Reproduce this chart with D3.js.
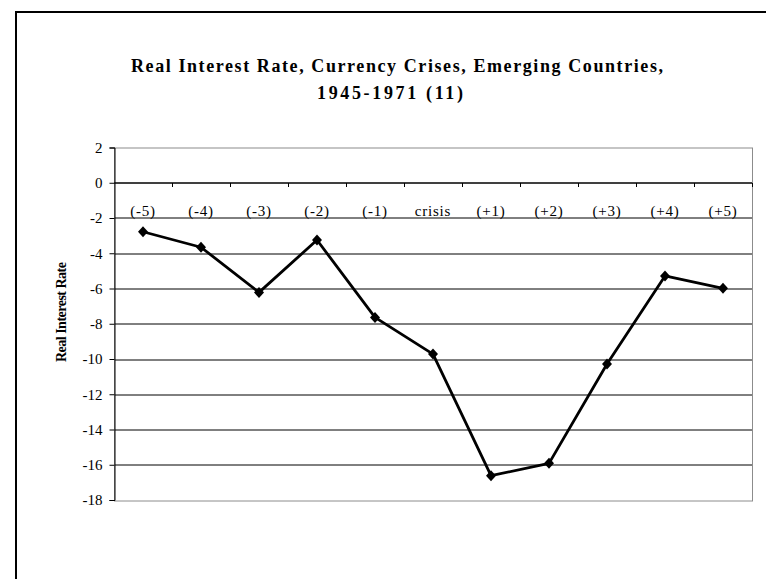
<!DOCTYPE html>
<html>
<head>
<meta charset="utf-8">
<script src="https://cdn.jsdelivr.net/npm/d3@7"></script>
<style>
  body { margin: 0; background: #fff; }
  svg { display: block; }
</style>
</head>
<body>
<div id="chart"></div>
<script>
// data
const periods = ['(-5)', '(-4)', '(-3)', '(-2)', '(-1)', 'crisis', '(+1)', '(+2)', '(+3)', '(+4)', '(+5)'];
const realRate = [-2.78, -3.66, -6.22, -3.25, -7.64, -9.72, -16.62, -15.92, -10.28, -5.29, -5.99];
const yTicks = [2, 0, -2, -4, -6, -8, -10, -12, -14, -16, -18];
const titleLines = ['Real Interest Rate, Currency Crises, Emerging Countries,', '1945-1971 (11)'];
const titleWidths = [532, 146];

const W = 766, H = 579;
const margin = {top: 147.5, right: 14, bottom: 79, left: 114};
const width = W - margin.left - margin.right;
const height = H - margin.top - margin.bottom;
const serif = '"Liberation Serif", "Times New Roman", serif';

const svg = d3.select('#chart')
  .append('svg')
    .attr('width', W)
    .attr('height', H);

// outer chart frame (runs off the right and bottom edges)
svg.append('rect')
  .attr('x', 16).attr('y', 12)
  .attr('width', W + 10).attr('height', H + 10)
  .attr('fill', 'none')
  .attr('stroke', '#000')
  .attr('stroke-width', 2);

// title
svg.append('text')
  .attr('text-anchor', 'middle')
  .style('font-family', serif)
  .style('font-weight', 'bold')
  .style('font-size', '18px')
  .selectAll('tspan')
  .data(titleLines)
  .enter()
  .append('tspan')
    .attr('x', (d, i) => i === 0 ? 397 : 390)
    .attr('y', (d, i) => 72 + i * 26.5)
    .attr('textLength', (d, i) => titleWidths[i])
    .attr('lengthAdjust', 'spacing')
    .text(d => d);

const g = svg.append('g')
  .attr('transform', 'translate(' + margin.left + ',' + margin.top + ')');

const x = d3.scaleBand()
  .domain(periods)
  .range([0, width]);

const y = d3.scaleLinear()
  .domain([-18, 2])
  .range([height, 0]);

// grid lines
g.append('g')
  .selectAll('line')
  .data(yTicks.filter(v => v !== 2 && v !== -18))
  .enter()
  .append('line')
    .attr('x1', 0).attr('x2', width)
    .attr('y1', d => Math.round(y(d)) + 0.5)
    .attr('y2', d => Math.round(y(d)) + 0.5)
    .attr('stroke', '#000')
    .attr('stroke-width', 1);

// plot area border
g.append('rect')
  .attr('x', 0.5).attr('y', Math.round(y(2)) + 0.5)
  .attr('width', width).attr('height', Math.round(y(-18)) - Math.round(y(2)))
  .attr('fill', 'none')
  .attr('stroke', '#8c8c8c')
  .attr('stroke-width', 1);

// Y axis
const yAxis = g.append('g')
  .attr('transform', 'translate(0.5,0)')
  .call(d3.axisLeft(y).tickValues(yTicks).tickSize(5).tickPadding(7).tickFormat(d3.format('d')));
yAxis.select('.domain').attr('stroke', '#000');
yAxis.selectAll('.tick line').attr('stroke', '#000');
yAxis.selectAll('.tick text')
  .style('font-family', serif)
  .style('font-size', '15px')
  .attr('fill', '#000')
  .text(d => d < 0 ? '-' + Math.abs(d) : d);

// X axis crossing at zero, ticks on category boundaries
const x0 = Math.round(y(0)) + 0.5;
const xAxis = g.append('g')
  .attr('transform', 'translate(0,' + x0 + ')');
xAxis.append('line')
  .attr('x1', 0).attr('x2', width)
  .attr('stroke', '#000');
xAxis.selectAll('.xt')
  .data(periods)
  .enter()
  .append('line')
    .attr('class', 'xt')
    .attr('x1', d => Math.round(x(d) + x.bandwidth()) + 0.5)
    .attr('x2', d => Math.round(x(d) + x.bandwidth()) + 0.5)
    .attr('y1', 0).attr('y2', 4)
    .attr('stroke', '#000');
xAxis.selectAll('.xl')
  .data(periods)
  .enter()
  .append('text')
    .attr('class', 'xl')
    .attr('x', d => x(d) + x.bandwidth() / 2)
    .attr('y', 33)
    .attr('text-anchor', 'middle')
    .style('font-family', serif)
    .style('font-size', '15px')
    .style('letter-spacing', '0.8px')
    .text(d => d);

// axis title
svg.append('text')
  .attr('transform', 'translate(66,312) rotate(-90)')
  .attr('text-anchor', 'middle')
  .style('font-family', serif)
  .style('font-weight', 'bold')
  .style('font-size', '14px')
  .attr('textLength', 100)
  .text('Real Interest Rate');

// series line
const line = d3.line()
  .x((d, i) => x(periods[i]) + x.bandwidth() / 2)
  .y(d => y(d));

g.append('path')
  .datum(realRate)
  .attr('d', line)
  .attr('fill', 'none')
  .attr('stroke', '#000')
  .attr('stroke-width', 2.8)
  .attr('stroke-linejoin', 'round');

// diamond markers
g.append('g')
  .selectAll('path')
  .data(realRate)
  .enter()
  .append('path')
    .attr('transform', (d, i) => 'translate(' + (x(periods[i]) + x.bandwidth() / 2) + ',' + y(d) + ')')
    .attr('d', 'M0,-5.5L5,0L0,5.5L-5,0Z')
    .attr('fill', '#000');
</script>
</body>
</html>
